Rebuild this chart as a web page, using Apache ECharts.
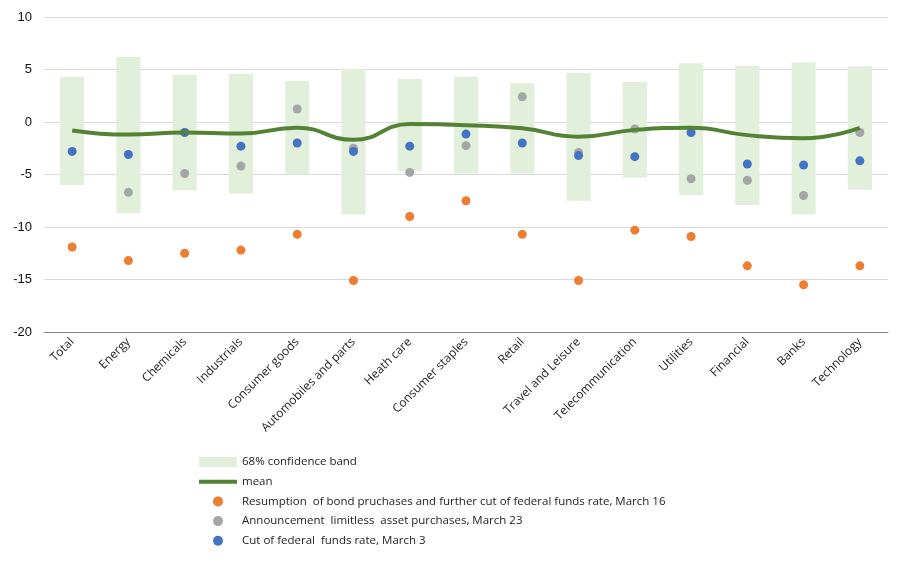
<!DOCTYPE html>
<html>
<head>
<meta charset="utf-8">
<script src="https://cdn.jsdelivr.net/npm/echarts@6/dist/echarts.min.js"></script>
<style>
html, body { margin: 0; padding: 0; background: #fff; }
#main { width: 920px; height: 562px; }
</style>
</head>
<body>
<div id="main"></div>
<script>
// sectors along the x axis
var sectors = ['Total', 'Energy', 'Chemicals', 'Industrials', 'Consumer goods', 'Automobiles and parts',
    'Heath care', 'Consumer staples', 'Retail', 'Travel and Leisure', 'Telecommunication',
    'Utilities', 'Financial', 'Banks', 'Technology'];

// 68% confidence band (low / high)
var bandLow = [-6.0, -8.7, -6.5, -6.8, -5.0, -8.8, -4.7, -4.9, -4.9, -7.5, -5.3, -6.95, -7.9, -8.8, -6.45];
var bandHigh = [4.3, 6.2, 4.5, 4.6, 3.9, 5.05, 4.1, 4.3, 3.7, 4.7, 3.8, 5.6, 5.35, 5.7, 5.3];

var meanVals = [-0.8, -1.2, -1.0, -1.1, -0.55, -1.7, -0.2, -0.3, -0.6, -1.4, -0.75, -0.55, -1.25, -1.55, -0.57];

var march16 = [-11.9, -13.2, -12.5, -12.2, -10.7, -15.1, -9.0, -7.5, -10.7, -15.1, -10.3, -10.9, -13.7, -15.5, -13.7];
var march23 = [null, -6.7, -4.9, -4.2, 1.24, -2.5, -4.8, -2.25, 2.4, -2.9, -0.67, -5.4, -5.55, -7.0, -1.0];
var march3 = [-2.8, -3.1, -1.0, -2.3, -2.0, -2.8, -2.3, -1.15, -2.0, -3.2, -3.3, -1.0, -4.0, -4.1, -3.7];

var bandData = sectors.map(function (s, i) { return [i, bandLow[i], bandHigh[i]]; });

var myChart = echarts.init(document.getElementById('main'));

var option = {
    animation: false,
    textStyle: { fontFamily: 'Liberation Sans' },
    grid: { left: 44, right: 32, top: 17, bottom: 230 },
    legend: {
        orient: 'vertical',
        left: 197,
        top: 456,
        padding: 0,
        itemWidth: 38,
        itemHeight: 10,
        itemGap: 7.7,
        textStyle: { fontFamily: 'Open Sans', fontSize: 11.5, color: '#222' },
        data: [
            { name: '68% confidence band', icon: 'rect' },
            { name: 'mean', itemStyle: { opacity: 0 }, lineStyle: { width: 4 } },
            { name: 'Resumption  of bond pruchases and further cut of federal funds rate, March 16', icon: 'circle' },
            { name: 'Announcement  limitless  asset purchases, March 23', icon: 'circle' },
            { name: 'Cut of federal  funds rate, March 3', icon: 'circle' }
        ]
    },
    xAxis: {
        type: 'category',
        data: sectors,
        axisTick: { show: false },
        axisLine: { onZero: false, lineStyle: { color: '#888', width: 1 } },
        axisLabel: {
            rotate: 45,
            margin: 8,
            interval: 0,
            fontFamily: 'Open Sans',
            fontSize: 12,
            color: '#222'
        }
    },
    yAxis: {
        type: 'value',
        min: -20,
        max: 10,
        interval: 5,
        axisLine: { show: false },
        axisTick: { show: false },
        axisLabel: { fontSize: 13, color: '#111', margin: 12 },
        splitLine: { lineStyle: { color: '#d9d9d9' } }
    },
    series: [
        {
            name: '68% confidence band',
            type: 'custom',
            itemStyle: { color: '#e2efda' },
            encode: { x: 0, y: [1, 2] },
            data: bandData,
            renderItem: function (params, api) {
                var lo = api.coord([api.value(0), api.value(1)]);
                var hi = api.coord([api.value(0), api.value(2)]);
                var w = api.size([1, 0])[0] * 0.43;
                return {
                    type: 'rect',
                    shape: { x: lo[0] - w / 2, y: hi[1], width: w, height: lo[1] - hi[1] },
                    style: { fill: '#e2efda' }
                };
            }
        },
        {
            name: 'mean',
            type: 'line',
            smooth: 0.5,
            symbol: 'none',
            data: meanVals,
            itemStyle: { color: '#548235' },
            lineStyle: { color: '#548235', width: 4 }
        },
        {
            name: 'Resumption  of bond pruchases and further cut of federal funds rate, March 16',
            type: 'scatter',
            symbolSize: 9,
            data: march16,
            itemStyle: { color: '#ed7d31', opacity: 1 }
        },
        {
            name: 'Announcement  limitless  asset purchases, March 23',
            type: 'scatter',
            symbolSize: 9,
            data: march23,
            itemStyle: { color: '#a5a5a5', opacity: 1 }
        },
        {
            name: 'Cut of federal  funds rate, March 3',
            type: 'scatter',
            symbolSize: 9,
            data: march3,
            itemStyle: { color: '#4472c4', opacity: 1 }
        }
    ]
};

myChart.setOption(option);
</script>
</body>
</html>
